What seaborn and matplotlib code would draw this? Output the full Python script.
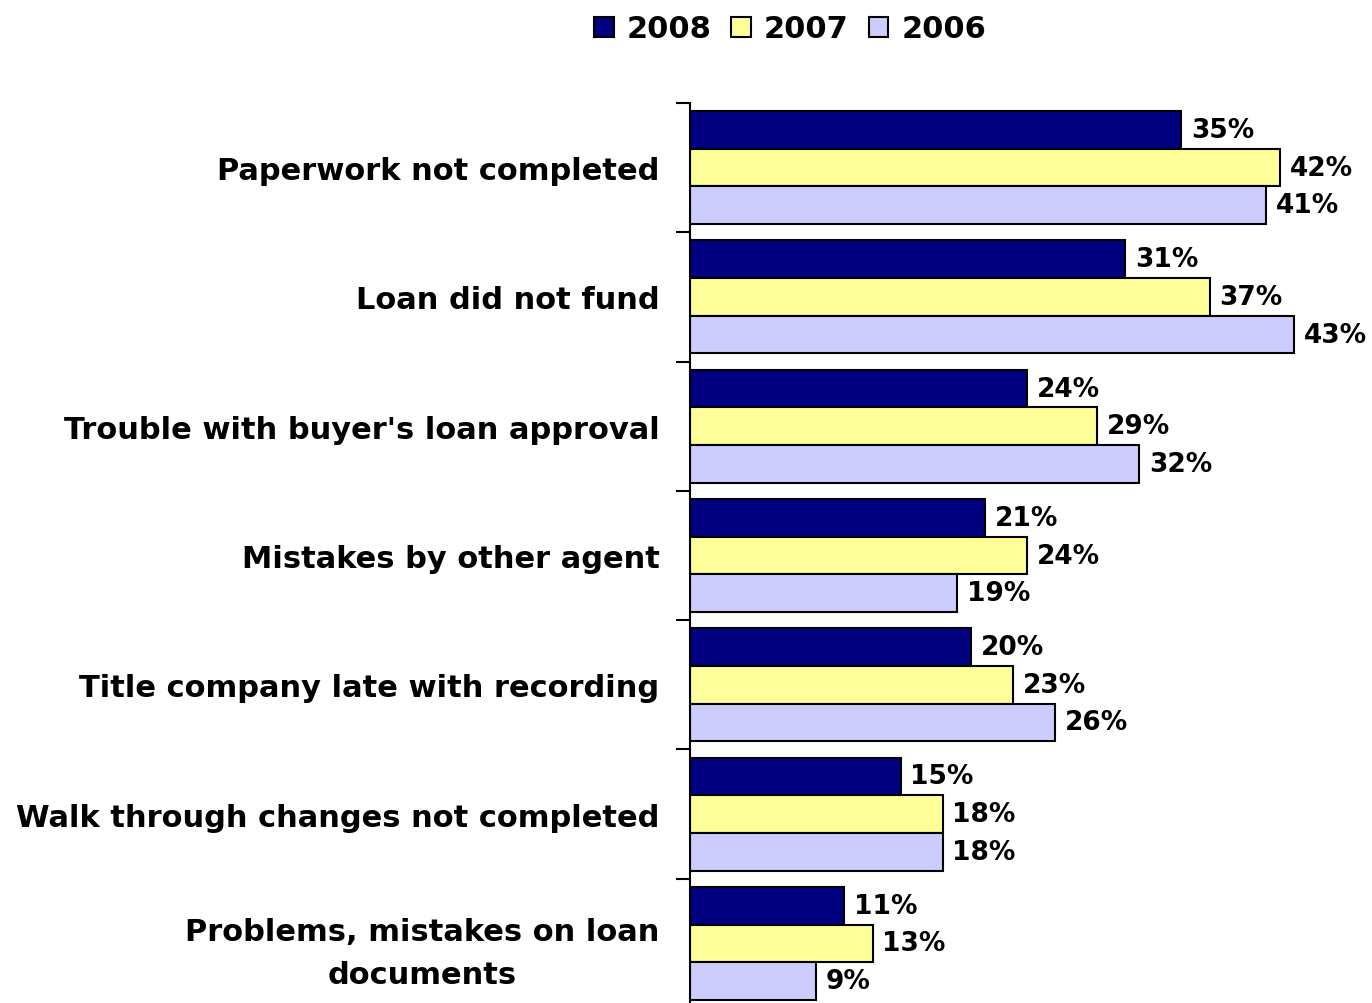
import matplotlib
matplotlib.use("Agg")
import matplotlib.pyplot as plt
import seaborn as sns
import pandas as pd

categories = [
    "Paperwork not completed",
    "Loan did not fund",
    "Trouble with buyer's loan approval",
    "Mistakes by other agent",
    "Title company late with recording",
    "Walk through changes not completed",
    "Problems, mistakes on loan\ndocuments",
]
years = ["2008", "2007", "2006"]
values_2008 = [35, 31, 24, 21, 20, 15, 11]
values_2007 = [42, 37, 29, 24, 23, 18, 13]
values_2006 = [41, 43, 32, 19, 26, 18, 9]
colors = ["#000080", "#FFFF99", "#CCCCFF"]

rows = []
for year, vals in zip(years, [values_2008, values_2007, values_2006]):
    for cat, v in zip(categories, vals):
        rows.append({"category": cat, "year": year, "value": v})
df = pd.DataFrame(rows)

sns.set_style("white")
plt.rcParams["font.family"] = ["DejaVu Sans"]
plt.rcParams["text.color"] = "black"
plt.rcParams["ytick.color"] = "black"
plt.rcParams["ytick.labelcolor"] = "black"

fig = plt.figure(figsize=(13.72, 10.04), dpi=100)
ax = fig.add_axes([690 / 1372, -5 / 1004, 674 / 1372, 905 / 1004])

sns.barplot(
    data=df, y="category", x="value", hue="year", order=categories,
    hue_order=years, palette=colors, saturation=1, orient="h", width=0.875,
    edgecolor="black", linewidth=1.5, ax=ax, legend=True,
)

ax.set_xlim(0, 48)
ax.set_ylim(len(categories) - 0.5, -0.5)
ax.set_xlabel("")
ax.set_ylabel("")
ax.set_xticks([])

for side in ["top", "right", "bottom"]:
    ax.spines[side].set_visible(False)
ax.spines["left"].set_color("black")
ax.spines["left"].set_linewidth(1.5)

# category labels at group centers, tick marks at group boundaries
ax.set_yticks(range(len(categories)))
ax.set_yticklabels(categories, fontsize=22, fontweight="bold",
                   multialignment="center", linespacing=1.6, color="black")
ax.tick_params(axis="y", which="major", length=0, pad=22)
ax.set_yticks([i - 0.5 for i in range(len(categories) + 1)], minor=True)
ax.tick_params(axis="y", which="minor", length=10, width=1.5, color="black", left=True)

for container in ax.containers:
    ax.bar_label(container, labels=[f"{int(v)}%" for v in container.datavalues],
                 padding=7, fontsize=19, fontweight="bold", color="black")

handles, labels = ax.get_legend_handles_labels()
ax.legend_.remove()
fig.legend(handles, labels, loc="center", bbox_to_anchor=(790 / 1372, 1 - 30 / 1004),
           ncol=3, frameon=False, prop={"size": 22, "weight": "bold"},
           handlelength=0.65, handleheight=0.65, handletextpad=0.42, columnspacing=0.65)

fig.savefig("out.png", dpi=100)
